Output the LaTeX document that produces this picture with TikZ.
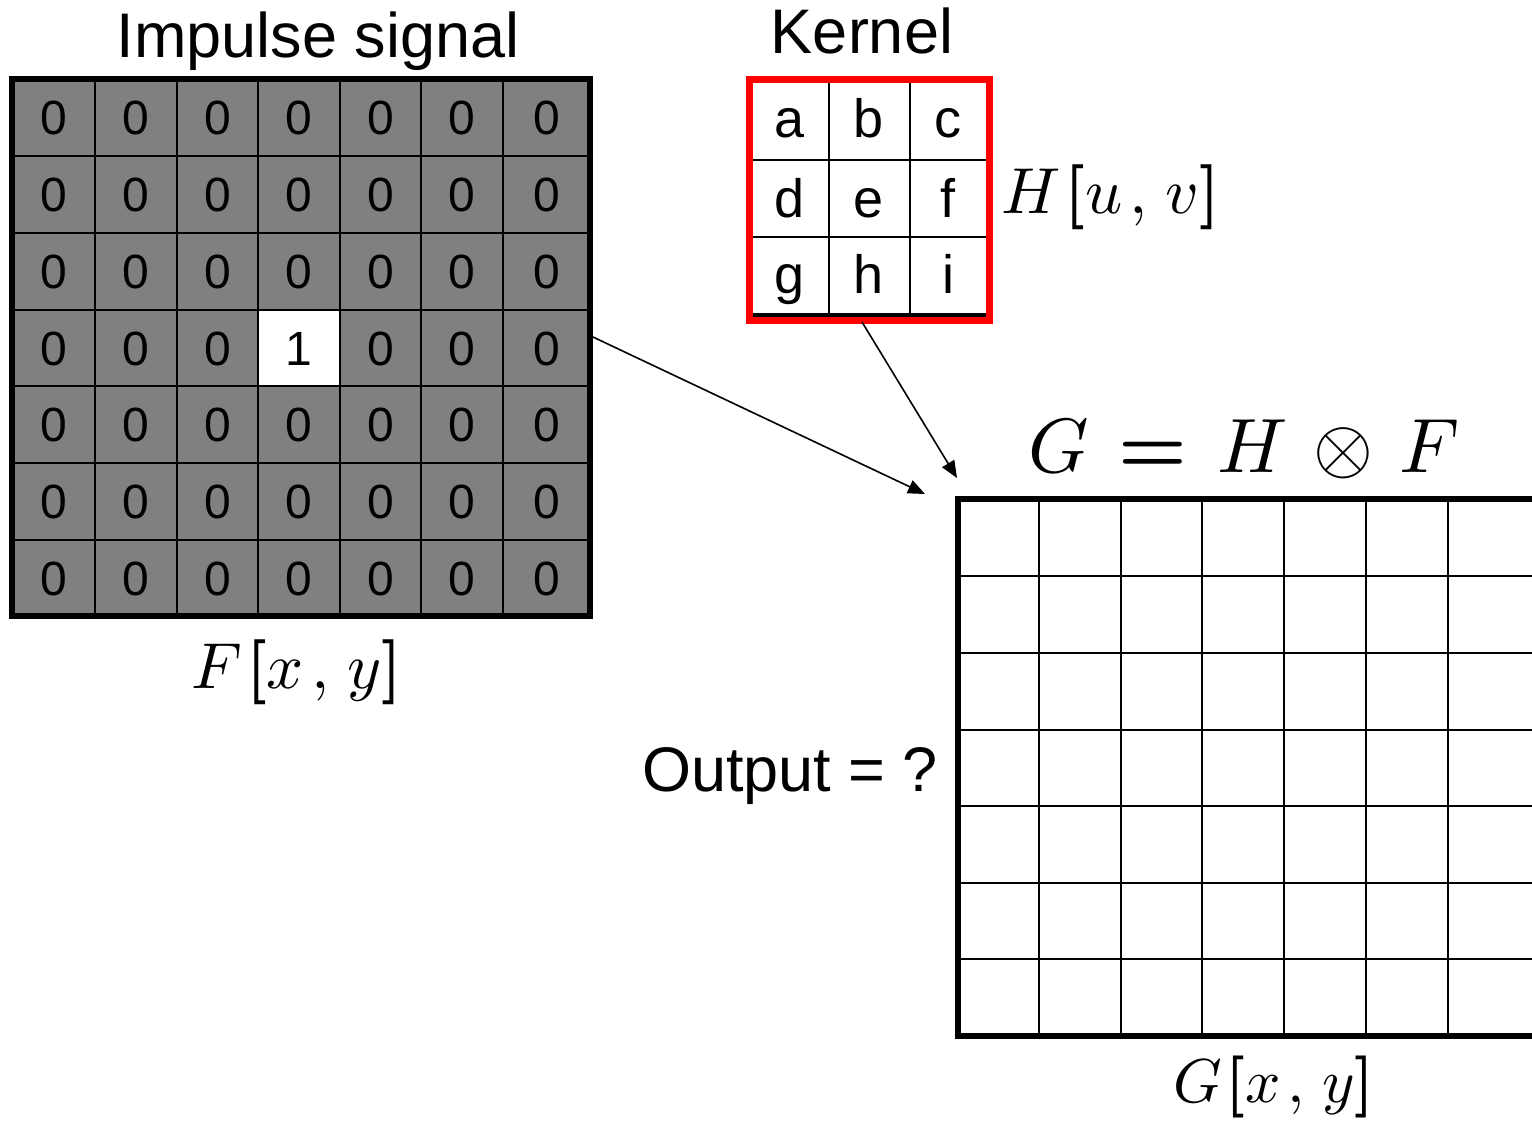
\RequirePackage{fix-cm}
\documentclass[tikz,border=0pt]{standalone}
\usepackage{bm}
\usepackage{fontspec}
\newfontfamily\arial{Liberation Sans}
\usetikzlibrary{arrows.meta}
\definecolor{cellgray}{RGB}{128,128,128}
\definecolor{kred}{RGB}{255,0,0}
\newcommand{\lbr}{\bm{[}}
\newcommand{\rbr}{\bm{]}}
\tikzset{
 lbl/.style={inner sep=0pt, anchor=base, font=\arial\fontsize{63}{63}\selectfont},
 digit/.style={inner sep=0pt, anchor=base, font=\arial\fontsize{48}{48}\selectfont},
 kletter/.style={inner sep=0pt, anchor=base, font=\arial\fontsize{54}{54}\selectfont},
 mathlbl/.style={inner sep=0pt, anchor=base, font=\fontsize{10}{12}\selectfont},
 gridline/.style={line width=2.5pt},
 border/.style={line width=5.5pt},
 conn/.style={line width=1.6pt, -{Triangle[length=17pt,width=14pt]}},
}
\begin{document}
\begin{tikzpicture}[x=1pt,y=-1pt]
\useasboundingbox (0,0) rectangle (1532,1120);
% ---------- impulse grid ----------
\fill[cellgray] (12,79) rectangle (590,616);
\fill[white] (258,310) rectangle (340,386);
\foreach \x in {95,177,258,340,421,503} \draw[gridline] (\x,79) -- (\x,616);
\foreach \y in {156,233,310,386,463,540} \draw[gridline] (12,\y) -- (590,\y);
\draw[border] (12,79) rectangle (590,616);
\foreach \r/\yt/\yb in {1/79/156,2/156/233,3/233/310,4/310/386,5/386/463,6/463/540,7/540/616}{
  \foreach \c/\xl/\xr in {1/12/95,2/95/177,3/177/258,4/258/340,5/340/421,6/421/503,7/503/590}{
    \ifnum\r=4 \ifnum\c=4 \def\v{1}\else\def\v{0}\fi\else\def\v{0}\fi
    \node[digit] (f\r\c) at ({(\xl+\xr)/2},{(\yt+\yb)/2+17}) {\v};
  }
}
% ---------- kernel ----------
\foreach \x in {829,910} \draw[gridline] (\x,83) -- (\x,315);
\foreach \y in {160,237} \draw[gridline] (753,\y) -- (986,\y);
\draw[line width=4.5pt] (753,315) -- (986,315);
\draw[kred, line width=7pt] (749.5,79) rectangle (989.5,320.5);
\foreach \r/\yb/\la/\lb/\lc in {1/137/a/b/c,2/217/d/e/f,3/293/g/h/i}{
  \node[kletter] (k\r1) at (790,\yb) {\la};
  \node[kletter] (k\r2) at (869,\yb) {\lb};
  \node[kletter] (k\r3) at (948,\yb) {\lc};
}
% ---------- output grid ----------
\foreach \x in {1039,1121,1202,1284,1366,1448} \draw[gridline] (\x,499) -- (\x,1036);
\foreach \y in {576,653,730,806,883,959} \draw[gridline] (958,\y) -- (1534,\y);
\draw[border] (958,499) rectangle (1534.5,1036);
% ---------- labels ----------
\node[lbl] (title1) at (318,57) {Impulse signal};
\node[lbl] (title2) at (862,53) {Kernel};
\node[lbl] (out) at (790,791) {Output = ?};
\node[mathlbl] (flbl) at (297,688) {\scalebox{6.5}{$F\mkern1mu\lbr x\mkern2mu,\mkern2mu y\rbr$}};
\node[mathlbl] (hlbl) at (1111,213) {\scalebox{6.5}{$H\mkern1mu\lbr u\mkern2mu,\mkern2mu v\rbr$}};
\node[mathlbl] (eq) at (1244,472) {\scalebox{7.7}{$G\mkern2mu\bm{=}\mkern2mu H\mkern2mu\otimes\mkern2mu F$}};
\node[mathlbl] (glbl) at (1274,1102) {\scalebox{6.2}{$G\mkern1mu\lbr x\mkern2mu,\mkern2mu y\rbr$}};
% ---------- connectors ----------
\coordinate (a1s) at (593,337);
\coordinate (a1e) at (925,494);
\coordinate (a2s) at (862,322);
\coordinate (a2e) at (957,478);
\draw[conn] (a1s) -- (a1e);
\draw[conn] (a2s) -- (a2e);
\end{tikzpicture}
\end{document}
